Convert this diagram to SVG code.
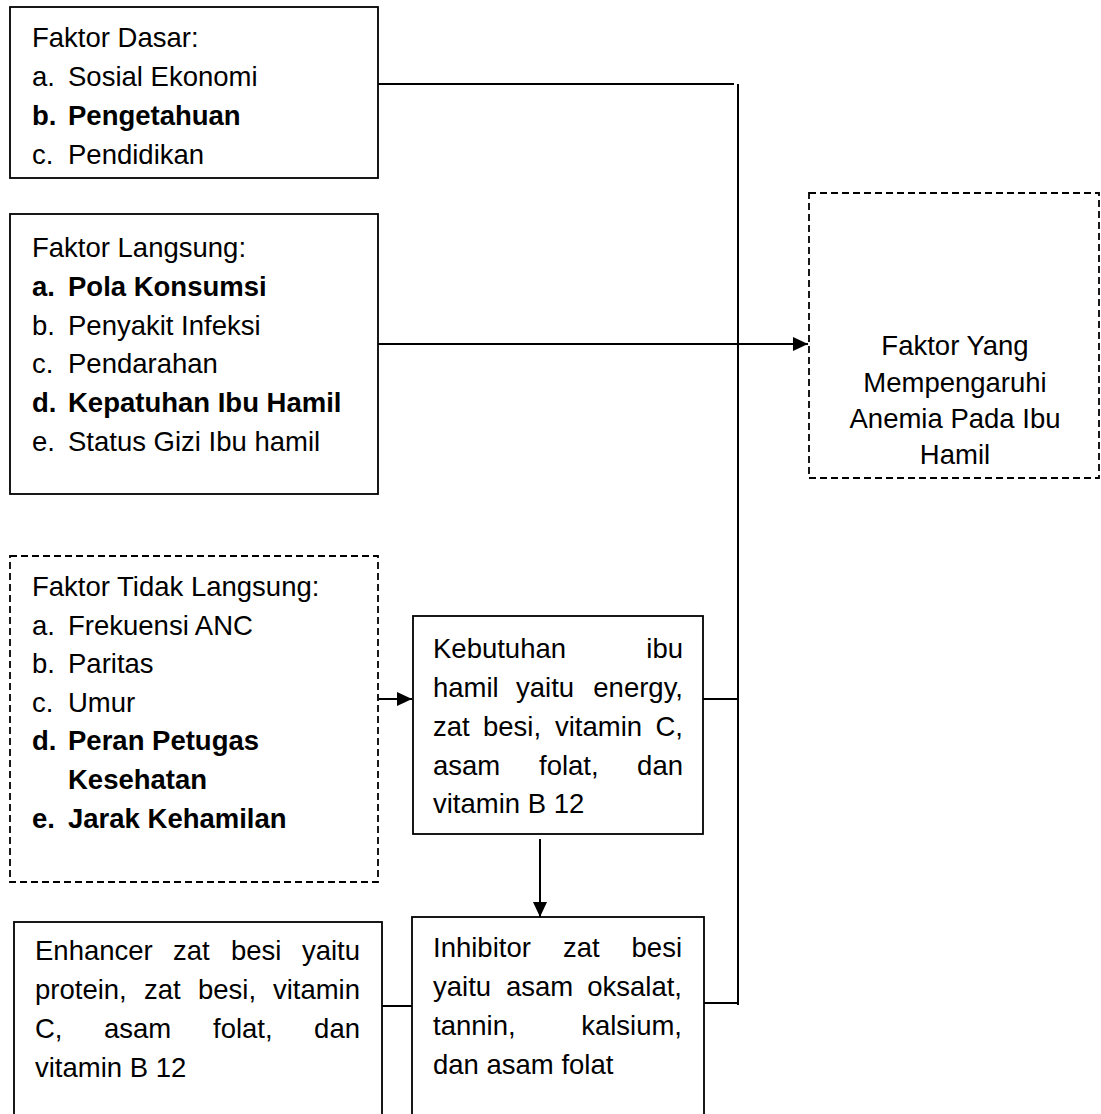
<svg xmlns="http://www.w3.org/2000/svg" width="1101" height="1114" viewBox="0 0 1101 1114">
<defs>
<style>
text{font-family:"Liberation Sans",Arial,sans-serif;font-size:27.5px;fill:#000}
.b{font-weight:bold}
.box{fill:#fff;stroke:#000;stroke-width:1.8}
.dash{fill:#fff;stroke:#000;stroke-width:1.8;stroke-dasharray:7 4}
.ln{fill:none;stroke:#000;stroke-width:2}
.m{text-anchor:middle}
.e{text-anchor:end}
</style>
<marker id="ahL" viewBox="0 0 10 10" refX="10" refY="5" markerWidth="15" markerHeight="14" markerUnits="userSpaceOnUse" orient="auto" preserveAspectRatio="none">
<path d="M0,0 L10,5 L0,10 Z" fill="#000"/>
</marker>
</defs>
<rect width="1101" height="1114" fill="#fff"/>

<g id="connectors">
<line class="ln" x1="378" y1="84" x2="734" y2="84"/>
<line class="ln" x1="738" y1="84" x2="738" y2="1005"/>
<line class="ln" x1="378" y1="344" x2="808" y2="344" marker-end="url(#ahL)"/>
<line class="ln" x1="379" y1="699" x2="412" y2="699" marker-end="url(#ahL)"/>
<line class="ln" x1="703" y1="699" x2="738" y2="699"/>
<line class="ln" x1="540" y1="839" x2="540" y2="917" marker-end="url(#ahL)"/>
<line class="ln" x1="704" y1="1003" x2="738" y2="1003"/>
<line class="ln" x1="382" y1="1006" x2="412" y2="1006"/>
</g>

<g id="faktor-dasar">
<rect class="box" x="10" y="7" width="368" height="171"/>
<text x="32" y="47">Faktor Dasar:</text>
<text x="32" y="86">a.</text><text x="68" y="86">Sosial Ekonomi</text>
<text class="b" x="32" y="125">b.</text><text class="b" x="68" y="125">Pengetahuan</text>
<text x="32" y="164">c.</text><text x="68" y="164">Pendidikan</text>
</g>

<g id="faktor-langsung">
<rect class="box" x="10" y="214" width="368" height="280"/>
<text x="32" y="257">Faktor Langsung:</text>
<text class="b" x="32" y="296">a.</text><text class="b" x="68" y="296">Pola Konsumsi</text>
<text x="32" y="335">b.</text><text x="68" y="335">Penyakit Infeksi</text>
<text x="32" y="373">c.</text><text x="68" y="373">Pendarahan</text>
<text class="b" x="32" y="412">d.</text><text class="b" x="68" y="412">Kepatuhan Ibu Hamil</text>
<text x="32" y="451">e.</text><text x="68" y="451">Status Gizi Ibu hamil</text>
</g>

<g id="faktor-tidak-langsung">
<rect class="dash" x="10" y="556" width="368" height="326"/>
<text x="32" y="596">Faktor Tidak Langsung:</text>
<text x="32" y="635">a.</text><text x="68" y="635">Frekuensi ANC</text>
<text x="32" y="673">b.</text><text x="68" y="673">Paritas</text>
<text x="32" y="712">c.</text><text x="68" y="712">Umur</text>
<text class="b" x="32" y="750">d.</text><text class="b" x="68" y="750">Peran Petugas</text>
<text class="b" x="68" y="789">Kesehatan</text>
<text class="b" x="32" y="828">e.</text><text class="b" x="68" y="828">Jarak Kehamilan</text>
</g>

<g id="anemia">
<rect class="dash" x="809" y="193" width="290" height="285"/>
<text class="m" x="955" y="355">Faktor Yang</text>
<text class="m" x="955" y="392">Mempengaruhi</text>
<text class="m" x="955" y="428">Anemia Pada Ibu</text>
<text class="m" x="955" y="464">Hamil</text>
</g>

<g id="kebutuhan">
<rect class="box" x="413" y="616" width="290" height="218"/>
<text x="433" y="658">Kebutuhan</text><text class="e" x="683" y="658">ibu</text>
<text x="433" y="697">hamil</text><text x="516" y="697">yaitu</text><text class="e" x="683" y="697">energy,</text>
<text x="433" y="736">zat</text><text x="483" y="736">besi,</text><text x="555" y="736">vitamin</text><text class="e" x="683" y="736">C,</text>
<text x="433" y="775">asam</text><text x="539" y="775">folat,</text><text class="e" x="683" y="775">dan</text>
<text x="433" y="813">vitamin B 12</text>
</g>

<g id="inhibitor">
<rect class="box" x="412" y="917" width="292" height="210"/>
<text x="433" y="957">Inhibitor</text><text x="563" y="957">zat</text><text class="e" x="682" y="957">besi</text>
<text x="433" y="996">yaitu</text><text x="506" y="996">asam</text><text class="e" x="682" y="996">oksalat,</text>
<text x="433" y="1035">tannin,</text><text class="e" x="682" y="1035">kalsium,</text>
<text x="433" y="1074">dan asam folat</text>
</g>

<g id="enhancer">
<rect class="box" x="14" y="922" width="368" height="205"/>
<text x="35" y="960">Enhancer</text><text x="173" y="960">zat</text><text x="231" y="960">besi</text><text class="e" x="360" y="960">yaitu</text>
<text x="35" y="999">protein,</text><text x="144" y="999">zat</text><text x="198" y="999">besi,</text><text class="e" x="360" y="999">vitamin</text>
<text x="35" y="1038">C,</text><text x="104" y="1038">asam</text><text x="213" y="1038">folat,</text><text class="e" x="360" y="1038">dan</text>
<text x="35" y="1077">vitamin B 12</text>
</g>
</svg>
